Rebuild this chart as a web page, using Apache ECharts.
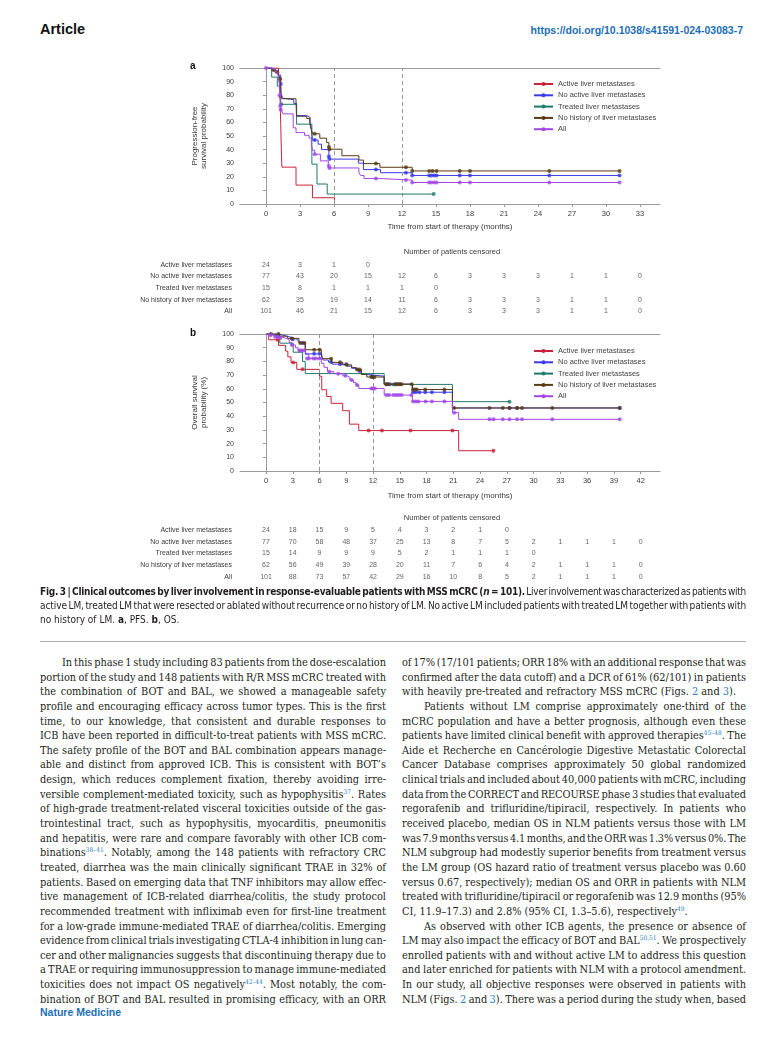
<!DOCTYPE html>
<html><head><meta charset="utf-8">
<script src="https://cdn.jsdelivr.net/npm/echarts@6/dist/echarts.min.js"></script>
<style>
html,body{margin:0;padding:0;background:#fff;width:780px;height:1057px;overflow:hidden;position:relative;}
#chart{position:absolute;left:0;top:0;width:780px;height:590px;}
.hdr{position:absolute;left:40px;top:21px;font:bold 14.5px 'Liberation Sans',Arial,sans-serif;color:#111;}
.url{position:absolute;right:37px;top:24px;font:bold 10.5px 'Liberation Sans',Arial,sans-serif;color:#1d6fb5;}
.cap{position:absolute;left:40px;top:585px;width:706px;font-family:'Liberation Sans Narrow','DejaVu Sans Condensed',sans-serif;font-size:10px;color:#231f20;}
.cap .ln{height:14px;line-height:14px;}
.rule{position:absolute;left:40px;top:641px;width:706px;height:0;border-top:1px solid #b0b0b0;}
.col{position:absolute;top:656px;font-family:'DejaVu Serif Condensed','DejaVu Serif',serif;font-size:10.9px;color:#231f20;}
.col .ln{height:14.65px;line-height:14.65px;}
.ln{white-space:nowrap;}
.ln.ind{padding-left:22px;}
sup{font-size:6.5px;line-height:0;vertical-align:4px;color:#2a7fc1;}
.lk{color:#2a7fc1;}
.foot{position:absolute;left:40px;top:1006px;font:bold 10.5px 'Liberation Sans',Arial,sans-serif;color:#1d6fb5;}
</style></head>
<body>
<div class="hdr">Article</div>
<div class="url">https://doi.org/10.1038/s41591-024-03083-7</div>
<div id="chart"></div>

<div class="cap" data-w="706">
<div class="ln j"><span><b>Fig. 3 | Clinical outcomes by liver involvement in response-evaluable patients with MSS mCRC (<i>n</i> = 101).</b> Liver involvement was characterized as patients with</span></div>
<div class="ln j"><span>active LM, treated LM that were resected or ablated without recurrence or no history of LM. No active LM included patients with treated LM together with patients with</span></div>
<div class="ln"><span>no history of LM. <b>a</b>, PFS. <b>b</b>, OS.</span></div>
</div>
<div class="rule"></div>

<div class="col" style="left:40px;width:346px" data-w="346">
<div class="ln j ind"><span>In this phase 1 study including 83 patients from the dose-escalation</span></div>
<div class="ln j"><span>portion of the study and 148 patients with R/R MSS mCRC treated with</span></div>
<div class="ln j"><span>the combination of BOT and BAL, we showed a manageable safety</span></div>
<div class="ln j"><span>profile and encouraging efficacy across tumor types. This is the first</span></div>
<div class="ln j"><span>time, to our knowledge, that consistent and durable responses to</span></div>
<div class="ln j"><span>ICB have been reported in difficult-to-treat patients with MSS mCRC.</span></div>
<div class="ln j"><span>The safety profile of the BOT and BAL combination appears manage-</span></div>
<div class="ln j"><span>able and distinct from approved ICB. This is consistent with BOT’s</span></div>
<div class="ln j"><span>design, which reduces complement fixation, thereby avoiding irre-</span></div>
<div class="ln j"><span>versible complement-mediated toxicity, such as hypophysitis<sup>37</sup>. Rates</span></div>
<div class="ln j"><span>of high-grade treatment-related visceral toxicities outside of the gas-</span></div>
<div class="ln j"><span>trointestinal tract, such as hypophysitis, myocarditis, pneumonitis</span></div>
<div class="ln j"><span>and hepatitis, were rare and compare favorably with other ICB com-</span></div>
<div class="ln j"><span>binations<sup>38–41</sup>. Notably, among the 148 patients with refractory CRC</span></div>
<div class="ln j"><span>treated, diarrhea was the main clinically significant TRAE in 32% of</span></div>
<div class="ln j"><span>patients. Based on emerging data that TNF inhibitors may allow effec-</span></div>
<div class="ln j"><span>tive management of ICB-related diarrhea/colitis, the study protocol</span></div>
<div class="ln j"><span>recommended treatment with infliximab even for first-line treatment</span></div>
<div class="ln j"><span>for a low-grade immune-mediated TRAE of diarrhea/colitis. Emerging</span></div>
<div class="ln j"><span>evidence from clinical trials investigating CTLA-4 inhibition in lung can-</span></div>
<div class="ln j"><span>cer and other malignancies suggests that discontinuing therapy due to</span></div>
<div class="ln j"><span>a TRAE or requiring immunosuppression to manage immune-mediated</span></div>
<div class="ln j"><span>toxicities does not impact OS negatively<sup>42–44</sup>. Most notably, the com-</span></div>
<div class="ln j"><span>bination of BOT and BAL resulted in promising efficacy, with an ORR</span></div>
</div>

<div class="col" style="left:402px;width:344px" data-w="344">
<div class="ln j"><span>of 17% (17/101 patients; ORR 18% with an additional response that was</span></div>
<div class="ln j"><span>confirmed after the data cutoff) and a DCR of 61% (62/101) in patients</span></div>
<div class="ln"><span>with heavily pre-treated and refractory MSS mCRC (Figs. <span class="lk">2</span> and <span class="lk">3</span>).</span></div>
<div class="ln j ind"><span>Patients without LM comprise approximately one-third of the</span></div>
<div class="ln j"><span>mCRC population and have a better prognosis, although even these</span></div>
<div class="ln j"><span>patients have limited clinical benefit with approved therapies<sup>45–48</sup>. The</span></div>
<div class="ln j"><span>Aide et Recherche en Cancérologie Digestive Metastatic Colorectal</span></div>
<div class="ln j"><span>Cancer Database comprises approximately 50 global randomized</span></div>
<div class="ln j"><span>clinical trials and included about 40,000 patients with mCRC, including</span></div>
<div class="ln j"><span>data from the CORRECT and RECOURSE phase 3 studies that evaluated</span></div>
<div class="ln j"><span>regorafenib and trifluridine/tipiracil, respectively. In patients who</span></div>
<div class="ln j"><span>received placebo, median OS in NLM patients versus those with LM</span></div>
<div class="ln j"><span>was 7.9 months versus 4.1 months, and the ORR was 1.3% versus 0%. The</span></div>
<div class="ln j"><span>NLM subgroup had modestly superior benefits from treatment versus</span></div>
<div class="ln j"><span>the LM group (OS hazard ratio of treatment versus placebo was 0.60</span></div>
<div class="ln j"><span>versus 0.67, respectively); median OS and ORR in patients with NLM</span></div>
<div class="ln j"><span>treated with trifluridine/tipiracil or regorafenib was 12.9 months (95%</span></div>
<div class="ln"><span>CI, 11.9–17.3) and 2.8% (95% CI, 1.3–5.6), respectively<sup>49</sup>.</span></div>
<div class="ln j ind"><span>As observed with other ICB agents, the presence or absence of</span></div>
<div class="ln j"><span>LM may also impact the efficacy of BOT and BAL<sup>50,51</sup>. We prospectively</span></div>
<div class="ln j"><span>enrolled patients with and without active LM to address this question</span></div>
<div class="ln j"><span>and later enriched for patients with NLM with a protocol amendment.</span></div>
<div class="ln j"><span>In our study, all objective responses were observed in patients with</span></div>
<div class="ln j"><span>NLM (Figs. <span class="lk">2</span> and <span class="lk">3</span>). There was a period during the study when, based</span></div>
</div>

<div class="foot">Nature Medicine</div>

<script>
// ---------- DATA ----------
const groups = ['Active liver metastases','No active liver metastases','Treated liver metastases','No history of liver metastases','All'];
const colors = ['#c8233a','#3838ee','#1d7a6b','#5a3a12','#a346e8'];

const xTicksA = [0,3,6,9,12,15,18,21,24,27,30,33];
const xTicksB = [0,3,6,9,12,15,18,21,24,27,30,33,36,39,42];
const landmarks = [6,12];

// Panel a: PFS curves [month, %]
const pfsActive = [[0,100],[1.1,95.8],[1.2,87.5],[1.25,75],[1.3,58.3],[1.35,41.7],[1.4,27.1],[2.65,13.9],[4.1,4.6],[6.05,0]];
const pfsActiveCens = [];
const pfsNoActive = [[0,100],[0.6,98.7],[0.85,97.4],[1.1,94.8],[1.3,88.3],[1.35,78],[1.45,76.7],[2.45,74],[2.7,65],[3.6,63.6],[3.9,60],[4.0,55],[4.1,47],[4.6,44],[4.9,40],[5.55,35],[5.6,33],[8.15,30],[8.6,25.3],[10.1,23],[12.9,21],[31.2,21]];
const pfsNoActiveCens = [[1.3,88.3],[4.3,47],[5.55,35],[5.6,33],[9.7,25.3],[12.35,23],[12.9,21],[14.4,21],[14.6,21],[14.85,21],[15.05,21],[17.1,21],[18,21],[25,21],[31.2,21]];
const pfsTreated = [[0,100],[0.5,93.3],[1.0,86.7],[1.3,73.3],[2.7,58.7],[4.05,29.3],[4.5,14.7],[5.4,7.3],[14.8,7.3]];
const pfsTreatedCens = [[1.35,73.3],[14.8,7.3]];
const pfsNoHist = [[0,100],[0.5,98.4],[0.8,96.8],[1.1,95.2],[1.25,91.9],[1.3,79],[1.45,77.4],[2.65,74.2],[2.7,64.5],[3.6,62.9],[3.85,59.7],[4.0,54.8],[4.1,51.6],[4.75,48.4],[5.35,45.2],[5.55,41.9],[5.6,40.3],[6.7,35.5],[8.2,32.3],[8.6,29.7],[10.05,27],[12.9,24.3],[31.2,24.3]];
const pfsNoHistCens = [[0.7,98.4],[1.0,96.8],[1.25,91.9],[1.3,79],[4.3,51.6],[5.55,41.9],[5.6,40.3],[9.7,29.7],[12.35,27],[12.9,24.3],[14.4,24.3],[14.7,24.3],[15.05,24.3],[17.1,24.3],[18,24.3],[25,24.3],[31.2,24.3]];
const pfsAll = [[0,100],[0.5,99],[0.8,97],[1.05,95],[1.2,88],[1.25,80],[1.3,72],[1.35,69.3],[1.5,66.3],[2.4,56],[2.65,52.5],[3.4,50.5],[3.8,48.5],[4.0,44],[4.1,39.5],[4.3,36.6],[4.8,31.7],[5.5,28],[5.6,26.5],[8.2,23],[8.35,21],[8.65,18.7],[10.05,17.6],[12.9,15.8],[31.2,15.8]];
const pfsAllCens = [[0,100],[1.2,80],[1.25,72],[1.3,69.3],[4.3,36.6],[5.55,28],[5.6,26.5],[9.7,18.7],[12.35,17.6],[12.9,15.8],[14.4,15.8],[14.6,15.8],[14.85,15.8],[15.05,15.8],[17.1,15.8],[18,15.8],[25,15.8],[31.2,15.8]];

// Panel b: OS curves [month, %]
const osActive = [[0,100],[0.3,95.8],[1.4,91.7],[2.2,87.5],[2.45,83.3],[2.8,79.2],[3.45,74.2],[6.0,69.2],[6.25,59.3],[6.8,54.4],[7.3,49.4],[8.6,44],[9.35,34.2],[10.4,29.5],[21.6,14.8],[25.5,14.8]];
const osActiveCens = [[1.3,95.8],[3.05,79.2],[4.1,74.2],[11.5,29.5],[13.0,29.5],[16.2,29.5],[20.9,29.5],[25.5,14.8]];
const osNoActive = [[0,100],[1.3,98.7],[2.2,97.4],[2.9,96.1],[3.5,94.8],[3.7,93.5],[4.4,88],[4.5,85.5],[6.25,82.5],[6.4,81],[7.0,79.5],[7.4,78],[9.1,76.5],[9.6,75],[10.3,73],[10.7,70.5],[11.2,69.2],[13.25,63.4],[16.4,57.5],[20.9,46],[39.65,46]];
const osNoActiveCens = [[1.2,98.7],[3.0,96.1],[4.1,93.5],[5.4,85.5],[6.0,85.5],[7.3,79.5],[8.3,78],[9.0,78],[10.5,73],[11.9,69.2],[13.5,63.4],[13.9,63.4],[14.6,63.4],[15.0,63.4],[16.5,57.5],[16.8,57.5],[17.2,57.5],[17.85,57.5],[18.6,57.5],[20.0,57.5],[27.3,46],[28.15,46],[39.65,46]];
const osTreated = [[0,100],[1.55,93.3],[3.05,86.7],[4.1,80],[4.4,71.1],[13.25,63.2],[20.9,50.6],[27.3,50.6]];
const osTreatedCens = [[14.3,63.2],[27.3,50.6]];
const osNoHist = [[0,100],[1.5,98.4],[2.4,96.8],[3.7,95.2],[3.8,93.5],[4.4,88.5],[6.2,85],[6.35,82],[7.35,79.3],[8.6,77.5],[9.6,75.5],[10.1,74],[10.7,70.5],[11.3,68.6],[13.25,63.4],[16.4,59.5],[20.9,46],[39.65,46]];
const osNoHistCens = [[0.55,100],[1.4,100],[2.9,96.8],[3.85,93.5],[4.3,93.5],[5.4,88.5],[6.0,88.5],[7.3,82],[8.3,79.3],[9.05,77.5],[10.2,74],[10.5,74],[11.8,68.6],[12.0,68.6],[12.15,68.6],[13.5,63.4],[13.7,63.4],[14.5,63.4],[14.75,63.4],[15.0,63.4],[15.2,63.4],[16.35,63.4],[16.5,59.5],[16.7,59.5],[16.9,59.5],[17.85,59.5],[20.0,59.5],[21.1,46],[25.05,46],[26.55,46],[27.3,46],[28.15,46],[28.7,46],[32.1,46],[39.65,46]];
const osAll = [[0,100],[0.4,99],[0.9,98],[1.6,97],[2.2,96],[2.6,94],[2.85,92],[3.3,90],[3.6,88],[4.4,85],[4.8,82.2],[6.2,78.6],[6.5,75.7],[6.9,72.5],[7.6,71],[8.6,69.5],[9.1,68.5],[9.4,66.4],[9.8,64.5],[10.1,62.8],[10.4,60.2],[13.25,55.4],[16.4,50.8],[20.9,42.6],[21.6,37.7],[39.65,37.7]];
const osAllCens = [[0.5,99],[1.0,98],[1.3,98],[1.6,97],[2.9,92],[3.75,88],[3.95,88],[4.2,88],[4.6,82.2],[4.8,82.2],[5.3,82.2],[5.6,82.2],[6.0,82.2],[7.1,72.5],[8.1,71],[8.9,69.5],[9.6,66.4],[10.2,62.8],[11.8,60.2],[12.0,60.2],[12.2,60.2],[13.5,55.4],[13.8,55.4],[14.3,55.4],[14.6,55.4],[14.9,55.4],[15.2,55.4],[16.3,55.4],[16.5,50.8],[16.8,50.8],[17.1,50.8],[17.9,50.8],[18.6,50.8],[20.0,50.8],[21.1,42.6],[25.05,37.7],[25.5,37.7],[26.55,37.7],[27.3,37.7],[28.15,37.7],[28.7,37.7],[32.1,37.7],[39.65,37.7]];

// Numbers under the plots (one value every 3 months)
const tabA_active = [24,3,1,0];
const tabA_noActive = [77,43,20,15,12,6,3,3,3,1,1,0];
const tabA_treated = [15,8,1,1,1,0];
const tabA_noHist = [62,35,19,14,11,6,3,3,3,1,1,0];
const tabA_all = [101,46,21,15,12,6,3,3,3,1,1,0];
const tabB_active = [24,18,15,9,5,4,3,2,1,0];
const tabB_noActive = [77,70,58,48,37,25,13,8,7,5,2,1,1,1,0];
const tabB_treated = [15,14,9,9,9,5,2,1,1,1,0];
const tabB_noHist = [62,56,49,39,28,20,11,7,6,4,2,1,1,1,0];
const tabB_all = [101,88,73,57,42,29,16,10,8,5,2,1,1,1,0];

// ---------- CHART ----------
const FONT = "'Liberation Sans', Arial, sans-serif";
const TXT = '#3a3a3a', AX = '#9a9a9a';
const minA = -2.294, maxA = 34.77, minB = -2.914, maxB = 44.17;

const pfsCurves = [pfsActive,pfsNoActive,pfsTreated,pfsNoHist,pfsAll];
const pfsCens = [pfsActiveCens,pfsNoActiveCens,pfsTreatedCens,pfsNoHistCens,pfsAllCens];
const osCurves = [osActive,osNoActive,osTreated,osNoHist,osAll];
const osCens = [osActiveCens,osNoActiveCens,osTreatedCens,osNoHistCens,osAllCens];
const tabA = [tabA_active,tabA_noActive,tabA_treated,tabA_noHist,tabA_all];
const tabB = [tabB_active,tabB_noActive,tabB_treated,tabB_noHist,tabB_all];

function plotX(grid, min, max, ticks, name, gap) {
  return {type:'value', gridIndex:grid, min, max,
    axisLine:{show:true, lineStyle:{color:AX, width:1}},
    axisTick:{show:true, length:3, customValues:ticks, lineStyle:{color:AX}},
    axisLabel:{customValues:ticks, fontSize:7.5, color:TXT, fontFamily:FONT, margin:6},
    splitLine:{show:false},
    name, nameLocation:'middle', nameGap:gap, nameMoveOverlap:false,
    nameTextStyle:{fontSize:8, color:TXT, fontFamily:FONT}};
}
function topX(grid, min, max) {
  return {type:'value', gridIndex:grid, min, max, position:'top',
    axisLine:{show:true, lineStyle:{color:AX, width:1}}, axisTick:{show:false},
    axisLabel:{show:false}, splitLine:{show:false}};
}
function plotY(grid, name) {
  return {type:'value', gridIndex:grid, min:0, max:100, interval:10,
    axisLine:{show:true, lineStyle:{color:AX, width:1}},
    axisTick:{show:true, length:3, lineStyle:{color:AX}},
    axisLabel:{fontSize:7, color:TXT, fontFamily:FONT, margin:6},
    splitLine:{show:false},
    name, nameLocation:'middle', nameGap:31, nameRotate:90, nameMoveOverlap:false,
    nameTextStyle:{fontSize:8, lineHeight:9.5, color:TXT, fontFamily:FONT}};
}
function tabX(grid, min, max) {
  return {type:'value', gridIndex:grid, min, max, show:false};
}
function tabY(grid) {
  return {type:'category', gridIndex:grid, data:groups, inverse:true,
    axisLine:{show:false}, axisTick:{show:false},
    axisLabel:{fontSize:7, color:TXT, fontFamily:FONT, margin:8}};
}

const series = [];
function addPanel(curves, cens, xi, yi) {
  curves.forEach((d, i) => {
    const s = {name:groups[i], type:'line', step:'end', xAxisIndex:xi, yAxisIndex:yi,
      data:d, showSymbol:false, symbol:'circle', symbolSize:3,
      lineStyle:{width:1, color:colors[i]}, itemStyle:{color:colors[i]}, z:3+i, silent:true};
    if (i === 0) {
      s.markLine = {silent:true, symbol:'none', label:{show:false},
        lineStyle:{type:[4,3], color:'#9a9a9a', width:1},
        data:landmarks.map(v => ({xAxis:v}))};
    }
    series.push(s);
    series.push({type:'scatter', xAxisIndex:xi, yAxisIndex:yi, data:cens[i],
      symbol:'circle', symbolSize:4, itemStyle:{color:colors[i]}, z:3+i, silent:true});
  });
}
addPanel(pfsCurves, pfsCens, 0, 0);
addPanel(osCurves, osCens, 2, 1);

function addTable(tab, xi, yi) {
  tab.forEach((vals, i) => {
    series.push({type:'scatter', xAxisIndex:xi, yAxisIndex:yi, silent:true,
      symbolSize:2, itemStyle:{color:'rgba(0,0,0,0)'},
      data:vals.map((v, k) => [k * 3, i, v]),
      label:{show:true, position:'inside', formatter:p => String(p.value[2]),
        fontSize:7, color:TXT, fontFamily:FONT},
      labelLayout:{hideOverlap:false}});
  });
}
addTable(tabA, 4, 2);
addTable(tabB, 5, 3);

function legendAt(top) {
  return {data:groups, orient:'vertical', left:528, top, selectedMode:false,
    itemWidth:19, itemHeight:5, itemGap:3.3,
    textStyle:{fontSize:7.5, color:'#444', fontFamily:FONT, lineHeight:8}};
}

const option = {
  animation:false,
  grid:[
    {left:240, top:68, width:420, height:136},
    {left:240, top:334, width:420, height:137},
    {left:240, top:259, width:420, height:58},
    {left:240, top:524, width:420, height:59}
  ],
  xAxis:[
    plotX(0, minA, maxA, xTicksA, 'Time from start of therapy (months)', 19),
    topX(0, minA, maxA),
    plotX(1, minB, maxB, xTicksB, 'Time from start of therapy (months)', 21),
    topX(1, minB, maxB),
    tabX(2, minA, maxA),
    tabX(3, minB, maxB)
  ],
  yAxis:[
    plotY(0, 'Progression-free\nsurvival probability'),
    plotY(1, 'Overall survival\nprobability (%)'),
    tabY(2), tabY(3)
  ],
  legend:[legendAt(75), legendAt(342)],
  graphic:[
    {type:'text', left:190, top:61, style:{text:'a', font:"bold 10px 'Liberation Sans', Arial", fill:'#111'}},
    {type:'text', left:190, top:328, style:{text:'b', font:"bold 10px 'Liberation Sans', Arial", fill:'#111'}},
    {type:'text', x:452, y:251.5, style:{text:'Number of patients censored', font:"7.5px 'Liberation Sans', Arial", fill:TXT, align:'center', verticalAlign:'middle'}},
    {type:'text', x:452, y:518, style:{text:'Number of patients censored', font:"7.5px 'Liberation Sans', Arial", fill:TXT, align:'center', verticalAlign:'middle'}}
  ],
  series
};
const chart = echarts.init(document.getElementById('chart'), null, {renderer:'canvas'});
chart.setOption(option);

// ---------- justify text lines ----------
function justifyAll() {
  document.querySelectorAll('[data-w]').forEach(block => {
    const W = parseFloat(block.getAttribute('data-w'));
    block.querySelectorAll('.ln').forEach(ln => {
      const sp = ln.firstElementChild;
      sp.style.wordSpacing = '0px'; sp.style.letterSpacing = '0px';
      const indent = ln.classList.contains('ind') ? 22 : 0;
      const target = W - indent;
      const w = sp.getBoundingClientRect().width;
      const txt = sp.textContent;
      const n = (txt.match(/ /g) || []).length;
      if (!ln.classList.contains('j')) {
        if (w > target) sp.style.letterSpacing = ((target - w) / txt.length) + 'px';
        return;
      }
      if (n === 0) return;
      let ws = (target - w) / n;
      if (ws < -1.2) {
        const rem = target - (w + n * -1.2);
        ws = -1.2;
        sp.style.letterSpacing = (rem / txt.length) + 'px';
      }
      sp.style.wordSpacing = ws + 'px';
    });
  });
}
justifyAll();
if (document.fonts && document.fonts.ready) document.fonts.ready.then(justifyAll);
</script>
</body></html>
